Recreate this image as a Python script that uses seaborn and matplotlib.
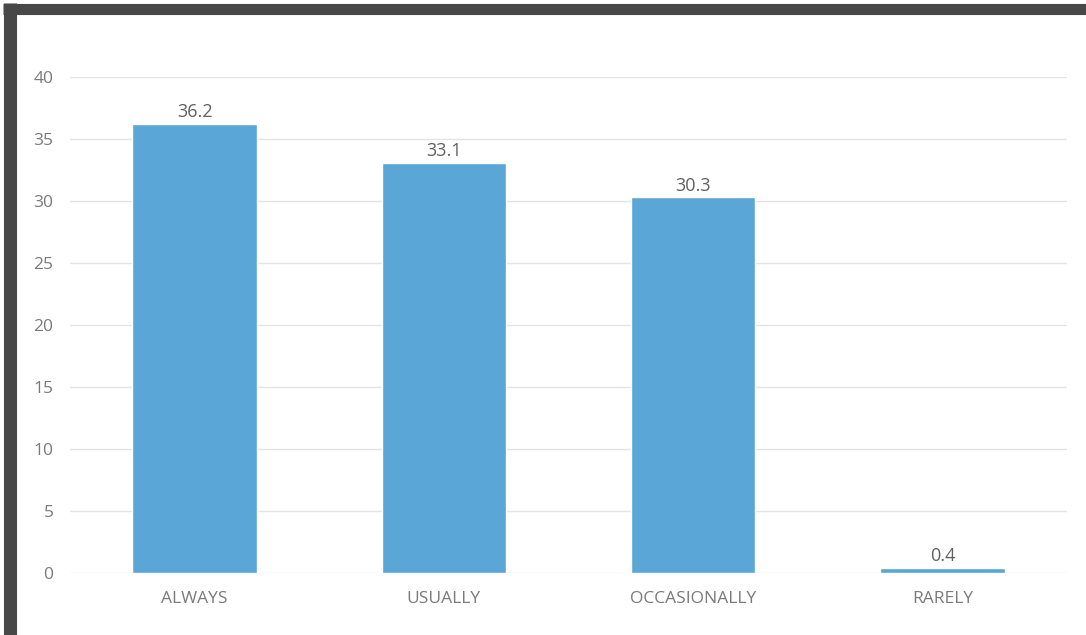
import matplotlib
matplotlib.use("Agg")
import matplotlib.pyplot as plt
import seaborn as sns
import pandas as pd
from matplotlib.lines import Line2D

# data
categories = ["ALWAYS", "USUALLY", "OCCASIONALLY", "RARELY"]
values = [36.2, 33.1, 30.3, 0.4]
value_labels = ["36.2", "33.1", "30.3", "0.4"]
yticks = [0, 5, 10, 15, 20, 25, 30, 35, 40]

df = pd.DataFrame({"category": categories, "value": values})

sns.set_style("white")
plt.rcParams['font.family'] = ['Open Sans', 'DejaVu Sans']

fig = plt.figure(figsize=(10.86, 6.35), dpi=100)
ax = fig.add_axes([0.0645, 0.0976, 0.918, 0.781])

sns.barplot(data=df, x="category", y="value", color="#5aa6d6",
            saturation=1, width=0.5, ax=ax)

ax.set_ylim(0, 40)
ax.set_yticks(yticks)
ax.grid(axis="y", color="#e4e4e4", linewidth=1)
ax.set_axisbelow(True)
for s in ax.spines.values():
    s.set_visible(False)
ax.set_xlabel("")
ax.set_ylabel("")
ax.tick_params(axis="y", length=0, pad=12, labelsize=12.5, labelcolor="#7a7a7a")
ax.tick_params(axis="x", length=0, pad=13, labelsize=12.5, labelcolor="#7a7a7a")

ax.bar_label(ax.containers[0], labels=value_labels, padding=2,
             fontsize=13, color="#606060")

# dark frame of the scanned chart (left and top edges)
fig.add_artist(Line2D([0.0092, 0.0092], [0, 0.995], transform=fig.transFigure,
                      color="#484848", linewidth=9.4, solid_capstyle="butt"))
fig.add_artist(Line2D([0.003, 1.0], [0.986, 0.986], transform=fig.transFigure,
                      color="#484848", linewidth=8.0, solid_capstyle="butt"))

fig.savefig("out.png", dpi=100, facecolor="white")
